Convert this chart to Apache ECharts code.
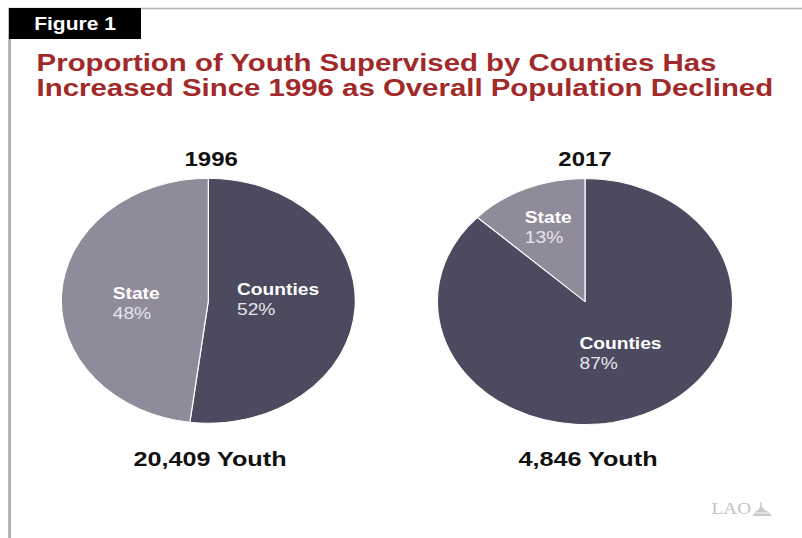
<!DOCTYPE html>
<html>
<head>
<meta charset="utf-8">
<script src="https://cdn.jsdelivr.net/npm/echarts@6/dist/echarts.min.js"></script>
<style>
html,body{margin:0;padding:0;background:#fff;overflow:hidden;width:802px;height:538px;}
#wrap{position:absolute;left:0;top:0;width:669px;height:538px;transform:scaleX(1.2);transform-origin:0 0;}
#chart{width:669px;height:538px;}
</style>
</head>
<body>
<div id="wrap"><div id="chart"></div></div>
<script>
const figureLabel = 'Figure 1';
const titleLines = ['Proportion of Youth Supervised by Counties Has', 'Increased Since 1996 as Overall Population Declined'];
const categories = ['Counties', 'State'];
const years = ['1996', '2017'];
const values1996 = [52, 48];
const values2017 = [87, 13];
const totals = ['20,409 Youth', '4,846 Youth'];

const colors = ['#4b4a5f', '#8f8b9a'];
const FONT = 'Liberation Sans, Arial, Helvetica, sans-serif';
// small label nudges (style only), per series / slice
const labelNudge = [[[-6, -5], [4, 7]], [[4, -7], [-5, -15]]];

function pieSeries(vals, cx, cy, r, si) {
  return {
    type: 'pie',
    center: [cx, cy],
    radius: r,
    startAngle: 90,
    clockwise: true,
    silent: true,
    animation: false,
    data: categories.map((c, i) => ({ name: c, value: vals[i], itemStyle: { color: colors[i] } })),
    itemStyle: { borderColor: '#ffffff', borderWidth: 1 },
    label: {
      show: true,
      position: 'inside',
      formatter: '{n|{b}}\n{p|{c}%}',
      rich: {
        n: { fontFamily: FONT, fontSize: 16, fontWeight: 'bold', color: '#ffffff', align: 'left', lineHeight: 20 },
        p: { fontFamily: FONT, fontSize: 16, fontWeight: 'normal', color: '#e6e6ec', align: 'left', lineHeight: 20 }
      }
    },
    labelLayout: function (p) {
      const n = labelNudge[si][p.dataIndex];
      return { dx: n[0], dy: n[1] };
    },
    labelLine: { show: false }
  };
}

const chart = echarts.init(document.getElementById('chart'), null, { renderer: 'svg' });
chart.setOption({
  backgroundColor: '#ffffff',
  animation: false,
  graphic: [
    { type: 'line', shape: { x1: 7, y1: 8.5, x2: 669, y2: 8.5 }, style: { stroke: '#b3b3b3', lineWidth: 1.6 } },
    { type: 'line', shape: { x1: 8, y1: 8, x2: 8, y2: 538 }, style: { stroke: '#b0b0b0', lineWidth: 2.4 } },
    { type: 'rect', shape: { x: 7.5, y: 8, width: 110, height: 31 }, style: { fill: '#000000' } },
    { type: 'text', x: 62.5, y: 24, style: { text: figureLabel, fill: '#ffffff', font: 'bold 17.5px ' + FONT, textAlign: 'center', textVerticalAlign: 'middle' } },
    { type: 'text', x: 30.5, y: 63, style: { text: titleLines[0], fill: '#a2292a', font: 'bold 24.5px ' + FONT, textAlign: 'left', textVerticalAlign: 'middle' } },
    { type: 'text', x: 30.5, y: 88, style: { text: titleLines[1], fill: '#a2292a', font: 'bold 24.5px ' + FONT, textAlign: 'left', textVerticalAlign: 'middle' } },
    { type: 'text', x: 176, y: 159, style: { text: years[0], fill: '#111111', font: 'bold 20px ' + FONT, textAlign: 'center', textVerticalAlign: 'middle' } },
    { type: 'text', x: 487.5, y: 159, style: { text: years[1], fill: '#111111', font: 'bold 20px ' + FONT, textAlign: 'center', textVerticalAlign: 'middle' } },
    { type: 'text', x: 175, y: 459, style: { text: totals[0], fill: '#111111', font: 'bold 21px ' + FONT, textAlign: 'center', textVerticalAlign: 'middle' } },
    { type: 'text', x: 490, y: 459, style: { text: totals[1], fill: '#111111', font: 'bold 21px ' + FONT, textAlign: 'center', textVerticalAlign: 'middle' } },
    { type: 'text', x: 593, y: 509, style: { text: 'LAO', fill: '#c4c4c4', font: '16px Liberation Serif, DejaVu Serif, serif', textAlign: 'left', textVerticalAlign: 'middle' } },
    { type: 'polygon', shape: { points: [[627, 516], [643, 516], [641, 512], [637, 510], [634, 505], [632, 510], [629, 512]] }, style: { fill: '#c8c8c8' } },
    { type: 'line', shape: { x1: 634, y1: 502, x2: 634, y2: 506 }, style: { stroke: '#c8c8c8', lineWidth: 1 } },
    { type: 'line', shape: { x1: 628, y1: 513, x2: 642, y2: 513 }, style: { stroke: '#ffffff', lineWidth: 0.8 } }
  ],
  series: [
    pieSeries(values1996, 173.6, 300.7, 122.5, 0),
    pieSeries(values2017, 487.5, 301.5, 123, 1)
  ]
});
</script>
</body>
</html>
